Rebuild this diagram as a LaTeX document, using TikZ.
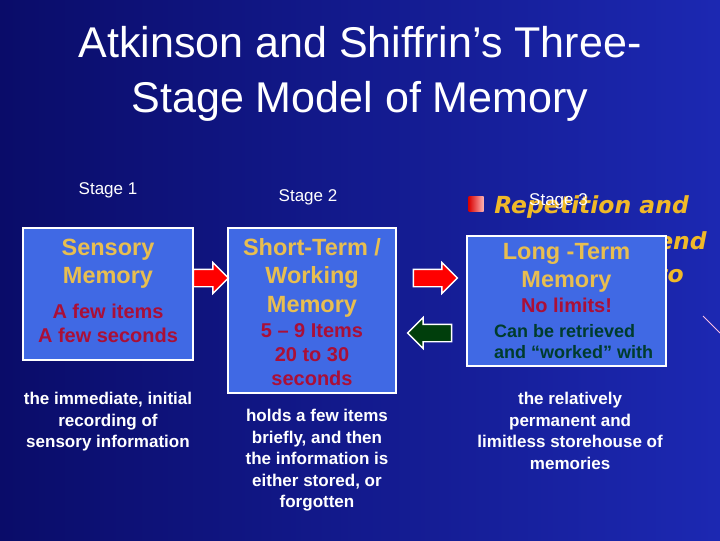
\documentclass[tikz,border=0pt]{standalone}
\usepackage{fontspec}
\setmainfont{Liberation Sans}
\newfontfamily\bulletfont{DejaVu Sans}
\usetikzlibrary{shapes.arrows, positioning}

\definecolor{slidedark}{RGB}{10,12,105}
\definecolor{slidelight}{RGB}{28,40,178}
\definecolor{boxblue}{RGB}{64,105,228}
\definecolor{gold}{RGB}{232,190,80}
\definecolor{bulletgold}{RGB}{240,185,40}
\definecolor{crimson}{RGB}{170,15,55}
\definecolor{deepgreen}{RGB}{0,60,45}
\definecolor{arrowgreen}{RGB}{0,62,12}

\newcommand{\headtext}{\bfseries\fontsize{16.7}{20.6}\selectfont\color{gold}}
\newcommand{\notetext}{\bfseries\fontsize{14.2}{17.1}\selectfont\color{crimson}}
\newcommand{\retrtext}{\bfseries\fontsize{12.8}{15.6}\selectfont\color{deepgreen}}

\begin{document}
\begin{tikzpicture}[
    x=0.025cm, y=-0.025cm,
    membox/.style={rectangle, draw=white, line width=1.4pt, fill=boxblue, inner sep=0pt, font=\fontsize{14.2}{17.1}\selectfont},
    stagelabel/.style={text=white, inner sep=0pt, font=\fontsize{12.1}{14.5}\selectfont},
    descr/.style={text=white, inner sep=0pt, align=center, font=\bfseries\fontsize{12.1}{15.3}\selectfont},
    rehearse/.style={anchor=west, inner sep=0pt, text=bulletgold, font=\bulletfont\bfseries\itshape\fontsize{16.7}{20}\selectfont},
    fwdarrow/.style={single arrow, draw=white, line width=1pt, fill=red, inner xsep=0pt, inner ysep=0.2cm, single arrow head extend=0.17cm},
    backarrow/.style={fwdarrow, fill=arrowgreen, shape border rotate=180}
]

\shade[left color=slidedark, right color=slidelight] (0,0) rectangle (720,540);
\useasboundingbox (0,0) rectangle (720,540);
\draw[white!75!magenta, line width=0.6pt] (703,316) -- (720,333);

\node[text=white, align=center, inner sep=0pt, font=\fontsize{30.6}{39.1}\selectfont] (title) at (360,74) {Atkinson and Shiffrin’s Three-\\Stage Model of Memory};

\node[minimum size=0.375cm, inner sep=0pt, left color=red!85!black, right color=red!30!white] (bullet) at (476,204) {};
\node[rehearse] (rep) at (494,207) {Repetition and};
\node[rehearse] (repend) at (657,241) {end};
\node[rehearse] (repto) at (656,274) {to};

\node[membox, minimum width=4.25cm, minimum height=3.3cm] (sensory) at (108,294) {%
  \begin{tabular}{@{}c@{}}\headtext Sensory\\[3pt] \headtext Memory\\[8pt] \notetext A few items\\ \notetext A few seconds\end{tabular}};
\node[membox, minimum width=4.2cm, minimum height=4.125cm] (stm) at (312,310.5) {%
  \begin{tabular}{@{}c@{}}\rule{0pt}{19pt}\headtext Short-Term /\\[3pt] \headtext Working\\[3pt] \headtext Memory\\[0.7pt] \notetext 5 – 9 Items\\ \notetext 20 to 30\\ \notetext seconds\end{tabular}};
\node[membox, minimum width=4.975cm, minimum height=3.25cm] (ltm) at (566.5,301) {%
  \begin{tabular}{@{}c@{}}\rule{0pt}{16.2pt}\headtext Long -Term\\[3pt] \headtext Memory\\[1pt] \notetext No limits!\\ {\retrtext\hspace*{10pt}\begin{tabular}[t]{@{}l@{}}Can be retrieved\\and “worked” with\end{tabular}}\end{tabular}};

\node[fwdarrow, minimum height=0.875cm] (encode) at (206.5,278) {};
\node[fwdarrow, minimum height=1.1cm] (store) at (431,278) {};
\node[backarrow, minimum height=1.1cm] (retrieve) at (434,333) {};

\node[stagelabel, above=0.725cm of sensory] (stage1) {Stage 1};
\node[stagelabel, above=0.55cm of stm, xshift=-0.1cm] (stage2) {Stage 2};
\node[stagelabel, above=0.63cm of ltm, xshift=-0.2cm] (stage3) {Stage 3};

\node[descr, below=0.775cm of sensory] (sensdesc) {the immediate, initial\\recording of\\sensory information};
\node[descr, below=0.375cm of stm, xshift=0.125cm] (stmdesc) {holds a few items\\briefly, and then\\the information is\\either stored, or\\forgotten};
\node[descr, below=0.625cm of ltm, xshift=0.09cm] (ltmdesc) {the relatively\\permanent and\\limitless storehouse of\\memories};

\end{tikzpicture}
\end{document}
